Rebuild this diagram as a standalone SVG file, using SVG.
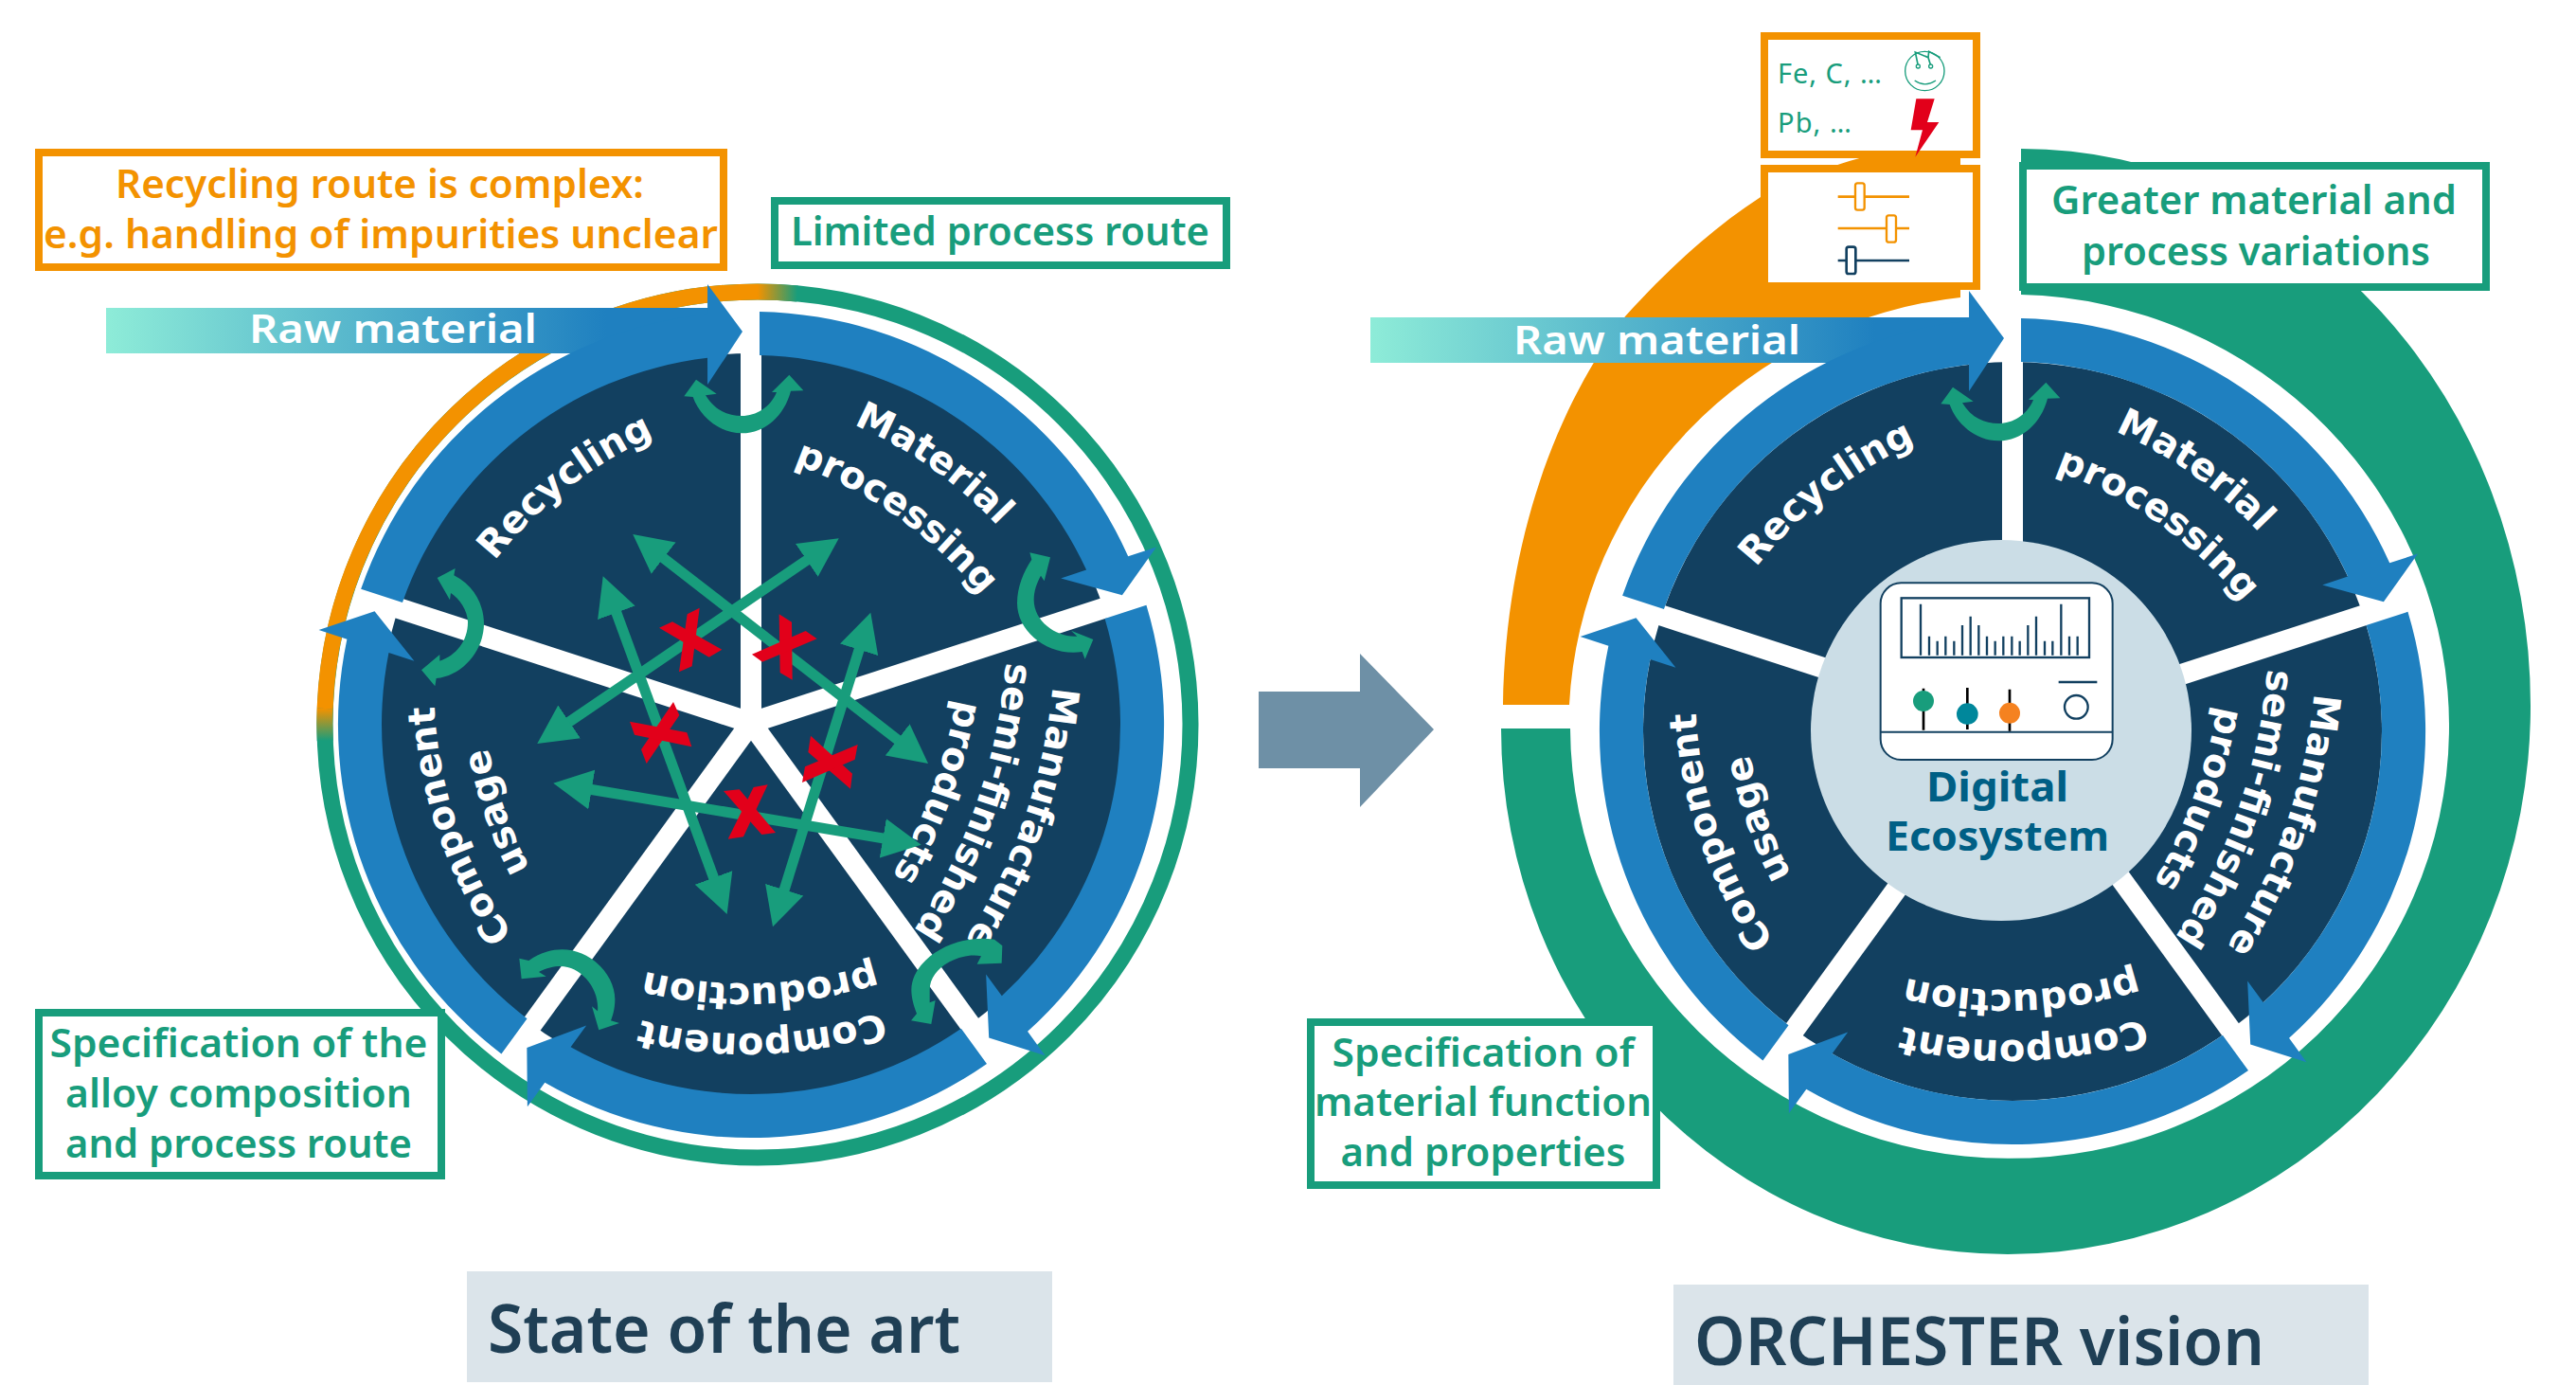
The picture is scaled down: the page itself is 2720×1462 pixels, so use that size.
<svg xmlns="http://www.w3.org/2000/svg" xmlns:xlink="http://www.w3.org/1999/xlink" width="2720" height="1462" viewBox="0 0 2720 1462">
<style>
text{font-family:"Noto Sans","Open Sans","Liberation Sans",sans-serif}
.wl{font-family:"DejaVu Sans","Noto Sans",sans-serif;font-size:40px;font-weight:700;fill:#fff;text-anchor:middle}
.lb{font-size:42px;font-weight:600;text-anchor:middle}
.gt{fill:#189d7c}.ot{fill:#f39200}
.bg{fill:#fff;stroke:#189d7c;stroke-width:8}
.bo{fill:#fff;stroke:#f39200;stroke-width:8}
.band{fill:#1f80c0}
.spoke{fill:#fff}
.disc{fill:#124060}
.ga{fill:none;stroke:#189d7c;stroke-width:11;marker-start:url(#mh);marker-end:url(#mh)}
.uf{fill:#189d7c}
.x{fill:#e2001a}
.ttl{font-size:70px;font-weight:600;fill:#1f3f55}
.ttb{fill:#dbe4ea}
.raw{font-size:42px;font-weight:600;fill:#fff}
</style>
<defs>
<linearGradient id="rawL" gradientUnits="userSpaceOnUse" x1="112" y1="0" x2="640" y2="0"><stop offset="0" stop-color="#8eecd8"/><stop offset="1" stop-color="#1f80c0"/></linearGradient>
<linearGradient id="rawR" gradientUnits="userSpaceOnUse" x1="1447" y1="0" x2="1980" y2="0"><stop offset="0" stop-color="#8eecd8"/><stop offset="1" stop-color="#1f80c0"/></linearGradient>
<linearGradient id="ogH" gradientUnits="userSpaceOnUse" x1="800" y1="0" x2="842" y2="0"><stop offset="0" stop-color="#f39200"/><stop offset="1" stop-color="#189d7c"/></linearGradient>
<linearGradient id="ogV" gradientUnits="userSpaceOnUse" x1="0" y1="748" x2="0" y2="782"><stop offset="0" stop-color="#f39200"/><stop offset="1" stop-color="#189d7c"/></linearGradient>
<marker id="mh" markerUnits="userSpaceOnUse" markerWidth="44" markerHeight="44" viewBox="0 -22 44 44" refX="6" refY="0" orient="auto-start-reverse"><polygon points="0,-21 41,0 0,21" fill="#189d7c"/></marker>
<path id="band" class="band" d="M9,-436 A436,436 0 0 1 398.2,-177.7 L428,-187.4 L391.9,-136.8 L327.2,-154.6 L354.1,-163.4 A390,390 0 0 0 9,-389.9 Z"/>
<rect id="spk" class="spoke" x="-11" y="-396" width="22" height="396"/>
<path id="uTop" class="uf" d="M105,62 L170,107 L135,112 C165,160 205,177 250,177 C295,177 340,150 360,102 L345,102 L400,47 L445,97 L405,98 C385,175 325,232 250,232 C175,232 115,175 95,117 L67,115 Z"/>
<path id="a312" d="M-300,-201.4 A450,450 0 0 1 300,-201.4"/>
<path id="a331" d="M-300,-216.4 A450,450 0 0 1 300,-216.4"/>
<path id="a268" d="M-300,-153.4 A450,450 0 0 1 300,-153.4"/>
<path id="a323" d="M-300,-211.4 A450,450 0 0 1 300,-211.4"/>
<path id="a269" d="M-300,-158.4 A450,450 0 0 1 300,-158.4"/>
<path id="a328" d="M-300,-213.4 A450,450 0 0 1 300,-213.4"/>
<path id="a275" d="M-300,-160.4 A450,450 0 0 1 300,-160.4"/>
<path id="m305" d="M-300,-224.6 A600,600 0 0 1 300,-224.6"/>
<path id="m252" d="M-300,-171.6 A600,600 0 0 1 300,-171.6"/>
<path id="m198" d="M-300,-122.6 A600,600 0 0 1 300,-122.6"/>
</defs>
<rect width="2720" height="1462" fill="#fff"/>

<g id="left-ring" fill="none" stroke-width="17">
<circle cx="800" cy="765" r="457" stroke="#189d7c"/>
<path d="M343.1,748 A457,457 0 0 1 800,308" stroke="#f39200"/>
<path d="M800,308 A457,457 0 0 1 842,310" stroke="url(#ogH)"/>
<path d="M343.2,782 A457,457 0 0 1 343.1,748" stroke="url(#ogV)"/>
</g>
<circle id="left-disc" class="disc" cx="793" cy="765" r="392"/>
<g id="left-spokes" transform="translate(793,763)">
<use href="#spk"/><use href="#spk" transform="rotate(72)"/><use href="#spk" transform="rotate(144)"/><use href="#spk" transform="rotate(216)"/><use href="#spk" transform="rotate(288)"/>
</g>
<g id="left-raw-material">
<rect x="112" y="325" width="636" height="48" fill="url(#rawL)"/>
<text class="raw" x="263" y="362" textLength="304" lengthAdjust="spacingAndGlyphs">Raw material</text>
</g>
<g id="l-material-processing" transform="translate(793,765)">
<use href="#band"/>
<text class="wl" transform="rotate(35)"><textPath href="#a331" startOffset="50%">Material</textPath></text>
<text class="wl" transform="rotate(35)"><textPath href="#a268" startOffset="50%">processing</textPath></text>
</g>
<g id="l-manufacture" transform="translate(793,765)">
<use href="#band" transform="rotate(72)"/>
<text class="wl" transform="rotate(109)"><textPath href="#m305" startOffset="50%">Manufacture</textPath></text>
<text class="wl" transform="rotate(109)"><textPath href="#m252" startOffset="50%">semi-finished</textPath></text>
<text class="wl" transform="rotate(110)"><textPath href="#m198" startOffset="50%">products</textPath></text>
</g>
<g id="l-component-production" transform="translate(793,765)">
<use href="#band" transform="rotate(144)"/>
<text class="wl" transform="rotate(178)"><textPath href="#a323" startOffset="50%">Component</textPath></text>
<text class="wl" transform="rotate(178)"><textPath href="#a269" startOffset="50%">production</textPath></text>
</g>
<g id="l-component-usage" transform="translate(793,765)">
<use href="#band" transform="rotate(216)"/>
<text class="wl" transform="rotate(251)"><textPath href="#a328" startOffset="50%">Component</textPath></text>
<text class="wl" transform="rotate(251)"><textPath href="#a275" startOffset="50%">usage</textPath></text>
</g>
<g id="l-recycling" transform="translate(793,765)">
<use href="#band" transform="rotate(288)"/>
<text class="wl" transform="rotate(-38)"><textPath href="#a312" startOffset="50%">Recycling</textPath></text>
</g>
<g id="left-connectors">
<path class="ga" d="M695.9,585.5 L952.4,784.5"/>
<path class="ga" d="M856.8,588 L596.2,765.3"/>
<path class="ga" d="M648.8,641.2 L755.6,932.1"/>
<path class="ga" d="M908.9,680.1 L826.4,944.9"/>
<path class="ga" d="M618.8,832.5 L938.2,885.9"/>
<use href="#uTop" transform="translate(700,380) scale(.33333)"/>
<path class="uf" transform="translate(420,590) scale(.33333)" d="M125,60 L182,30 L178,52 C245,85 273,150 273,205 C273,290 205,370 122,378 L118,403 L75,352 L133,303 L133,323 C185,305 222,260 222,200 C222,165 195,125 168,108 L165,130 Z"/>
<path class="uf" transform="translate(1050,570) scale(.33333)" d="M177,55 L158,130 L147,113 C135,135 125,160 125,190 C125,260 200,310 262,305 L243,287 L313,315 L287,377 L278,354 C170,370 72,290 72,200 C72,150 92,100 118,62 L112,40 Z"/>
<path class="uf" transform="translate(940,970) scale(.33333)" d="M330,65 L355,85 L353,140 L275,143 L288,118 C225,105 125,150 125,225 C125,240 125,255 125,265 L143,258 L130,333 L66,322 L84,300 C72,270 67,245 67,225 C67,130 200,45 330,65 Z"/>
<path class="uf" transform="translate(530,990) scale(.33333)" d="M85,72 C125,45 160,37 190,37 C280,37 358,115 358,195 C358,225 350,250 345,262 L372,270 L307,292 L285,217 L303,232 C310,160 250,90 185,90 C165,90 140,95 117,108 L140,122 L62,130 L55,65 Z"/>
</g>
<g id="left-crosses" class="x" transform="translate(540,540) scale(.33333)">
<polygon points="557,325 596,305 572,490 531,508"/><polygon points="468,368 510,349 667,437 626,461"/>
<polygon points="848,325 888,350 890,533 851,510"/><polygon points="762,452 932,378 968,403 795,476"/>
<polygon points="513,603 532,645 428,798 411,754"/><polygon points="375,665 556,700 571,745 390,707"/>
<polygon points="948,710 1080,830 1074,878 940,762"/><polygon points="921,858 930,808 1097,738 1088,785"/>
<polygon points="672,885 722,880 837,1017 793,1023"/><polygon points="767,873 812,865 735,1030 686,1037"/>
</g>
<g id="box-recycling-route">
<rect class="bo" x="41" y="161" width="723" height="121"/>
<text class="lb ot" x="401" y="209" textLength="558" lengthAdjust="spacingAndGlyphs">Recycling route is complex:</text>
<text class="lb ot" x="402" y="262" textLength="712" lengthAdjust="spacingAndGlyphs">e.g. handling of impurities unclear</text>
</g>
<g id="box-limited-route">
<rect class="bg" x="818" y="212" width="477" height="68"/>
<text class="lb gt" x="1056" y="259" textLength="442" lengthAdjust="spacingAndGlyphs">Limited process route</text>
</g>
<g id="box-specification-left">
<rect class="bg" x="41" y="1069" width="425" height="172"/>
<text class="lb gt" x="252" y="1116" textLength="399" lengthAdjust="spacingAndGlyphs">Specification of the</text>
<text class="lb gt" x="252" y="1169" textLength="366" lengthAdjust="spacingAndGlyphs">alloy composition</text>
<text class="lb gt" x="252" y="1222" textLength="366" lengthAdjust="spacingAndGlyphs">and process route</text>
</g>
<g id="title-left">
<rect class="ttb" x="493" y="1342" width="618" height="117"/>
<text class="ttl" x="515" y="1428" textLength="499" lengthAdjust="spacingAndGlyphs">State of the art</text>
</g>

<polygon id="transition-arrow" points="1329,730 1436,730 1436,690 1514,770 1436,852 1436,811 1329,811" fill="#6e90a6"/>

<path id="right-green-arc" fill="#189d7c" d="M2134,157 A538,588 0 0 1 2672,745 A552,579 0 0 1 2120,1324 A535,555 0 0 1 1585,769 L1658,769 A464,456 0 1 0 2134,311 Z"/>
<path id="right-orange-arc" fill="#f39200" d="M1587,744 C1590,560 1650,420 1716,334 C1765,280 1810,240 1859,208 C1890,190 1925,178 1970,165 L2070,160 L2070,314 A464,456 0 0 0 1657,744 Z"/>
<g id="box-elements">
<rect class="bo" x="1863" y="38" width="224" height="125"/>
<g transform="translate(1850,20) scale(.33333)">
<circle cx="547" cy="165" r="62" fill="none" stroke="#189d7c" stroke-width="4"/>
<polyline points="526,148 517,105 558,122 566,148" fill="none" stroke="#189d7c" stroke-width="5"/>
<polyline points="558,122 560,103 596,122" fill="none" stroke="#189d7c" stroke-width="5"/>
<circle cx="526" cy="150" r="6" fill="#fff" stroke="#189d7c" stroke-width="4"/>
<circle cx="566" cy="150" r="6" fill="#fff" stroke="#189d7c" stroke-width="4"/>
<path d="M515,195 Q548,218 582,195" fill="none" stroke="#189d7c" stroke-width="4"/>
<polygon points="520,253 578,253 555,327 592,327 517,437 540,352 503,352" fill="#e2001a"/>
</g>
<text class="gt" x="1877" y="88" font-size="29" textLength="110" lengthAdjust="spacing">Fe, C, …</text>
<text class="gt" x="1877" y="140" font-size="29" textLength="78" lengthAdjust="spacing">Pb, …</text>
</g>
<g id="box-sliders">
<rect class="bo" x="1863" y="178" width="224" height="124"/>
<g transform="translate(1850,20) scale(.33333)" fill="#fff">
<line x1="272" y1="563" x2="498" y2="563" stroke="#f39200" stroke-width="8"/>
<rect x="327" y="520" width="29" height="85" rx="7" stroke="#f39200" stroke-width="7"/>
<line x1="272" y1="663" x2="498" y2="663" stroke="#f39200" stroke-width="8"/>
<rect x="426" y="622" width="30" height="85" rx="7" stroke="#f39200" stroke-width="7"/>
<line x1="272" y1="765" x2="498" y2="765" stroke="#124060" stroke-width="8"/>
<rect x="299" y="722" width="29" height="85" rx="7" stroke="#124060" stroke-width="8"/>
</g>
</g>
<g id="box-greater-variations">
<rect class="bg" x="2136" y="175" width="489" height="128"/>
<text class="lb gt" x="2380" y="226" textLength="428" lengthAdjust="spacingAndGlyphs">Greater material and</text>
<text class="lb gt" x="2382" y="280" textLength="368" lengthAdjust="spacingAndGlyphs">process variations</text>
</g>

<circle id="right-disc" class="disc" cx="2125" cy="772" r="390"/>
<g id="right-spokes" transform="translate(2125,770)">
<use href="#spk"/><use href="#spk" transform="rotate(72)"/><use href="#spk" transform="rotate(144)"/><use href="#spk" transform="rotate(216)"/><use href="#spk" transform="rotate(288)"/>
</g>
<g id="right-raw-material">
<rect x="1447" y="335" width="634" height="48" fill="url(#rawR)"/>
<text class="raw" x="1598" y="374" textLength="303" lengthAdjust="spacingAndGlyphs">Raw material</text>
</g>
<g id="r-material-processing" transform="translate(2125,772)">
<use href="#band"/>
<text class="wl" transform="rotate(35)"><textPath href="#a331" startOffset="50%">Material</textPath></text>
<text class="wl" transform="rotate(35)"><textPath href="#a268" startOffset="50%">processing</textPath></text>
</g>
<g id="r-manufacture" transform="translate(2125,772)">
<use href="#band" transform="rotate(72)"/>
<text class="wl" transform="rotate(109)"><textPath href="#m305" startOffset="50%">Manufacture</textPath></text>
<text class="wl" transform="rotate(109)"><textPath href="#m252" startOffset="50%">semi-finished</textPath></text>
<text class="wl" transform="rotate(110)"><textPath href="#m198" startOffset="50%">products</textPath></text>
</g>
<g id="r-component-production" transform="translate(2125,772)">
<use href="#band" transform="rotate(144)"/>
<text class="wl" transform="rotate(178)"><textPath href="#a323" startOffset="50%">Component</textPath></text>
<text class="wl" transform="rotate(178)"><textPath href="#a269" startOffset="50%">production</textPath></text>
</g>
<g id="r-component-usage" transform="translate(2125,772)">
<use href="#band" transform="rotate(216)"/>
<text class="wl" transform="rotate(251)"><textPath href="#a328" startOffset="50%">Component</textPath></text>
<text class="wl" transform="rotate(251)"><textPath href="#a275" startOffset="50%">usage</textPath></text>
</g>
<g id="r-recycling" transform="translate(2125,772)">
<use href="#band" transform="rotate(288)"/>
<text class="wl" transform="rotate(-38)"><textPath href="#a312" startOffset="50%">Recycling</textPath></text>
</g>
<g id="right-connectors">
<use href="#uTop" transform="translate(2027,388) scale(.33333)"/>
</g>
<g id="digital-ecosystem">
<circle cx="2113" cy="771" r="201" fill="#cbdde6"/>
<g transform="translate(1950,590) scale(.33333)" fill="none" stroke="#124060">
<rect x="107" y="76" width="735" height="560" rx="65" fill="#fff" stroke-width="6"/>
<line x1="108" y1="548" x2="840" y2="548" stroke-width="6"/>
<rect x="173" y="124" width="595" height="188" stroke-width="7"/>
<path stroke-width="7" d="M234,143V305M261,245V305M287,260V305M313,245V305M340,260V305M366,210V305M392,182V305M418,210V305M444,245V305M470,260V305M496,245V305M523,245V305M548,260V305M574,210V305M600,182V305M627,260V305M652,260V305M679,143V305M705,245V305M731,245V305"/>
<path stroke="#000" stroke-width="8" d="M243,410V542M382,408V540M516,413V545"/>
<circle cx="243" cy="450" r="33" fill="#189d7c" stroke="none"/>
<circle cx="382" cy="491" r="34" fill="#00879b" stroke="none"/>
<circle cx="516" cy="488" r="33" fill="#f58220" stroke="none"/>
<line x1="671" y1="390" x2="793" y2="390" stroke-width="7"/>
<circle cx="727" cy="469" r="37" stroke-width="7"/>
</g>
<text x="2109" y="846" font-size="43" font-weight="700" fill="#005f85" text-anchor="middle" textLength="150" lengthAdjust="spacingAndGlyphs">Digital</text>
<text x="2109" y="898" font-size="43" font-weight="700" fill="#005f85" text-anchor="middle" textLength="236" lengthAdjust="spacingAndGlyphs">Ecosystem</text>
</g>
<g id="box-specification-right">
<rect class="bg" x="1384" y="1079" width="365" height="172"/>
<text class="lb gt" x="1566" y="1126" textLength="319" lengthAdjust="spacingAndGlyphs">Specification of</text>
<text class="lb gt" x="1566" y="1178" textLength="356" lengthAdjust="spacingAndGlyphs">material function</text>
<text class="lb gt" x="1566" y="1231" textLength="301" lengthAdjust="spacingAndGlyphs">and properties</text>
</g>
<g id="title-right">
<rect class="ttb" x="1767" y="1356" width="734" height="106"/>
<text class="ttl" x="1789" y="1441" textLength="602" lengthAdjust="spacingAndGlyphs">ORCHESTER vision</text>
</g>
</svg>
